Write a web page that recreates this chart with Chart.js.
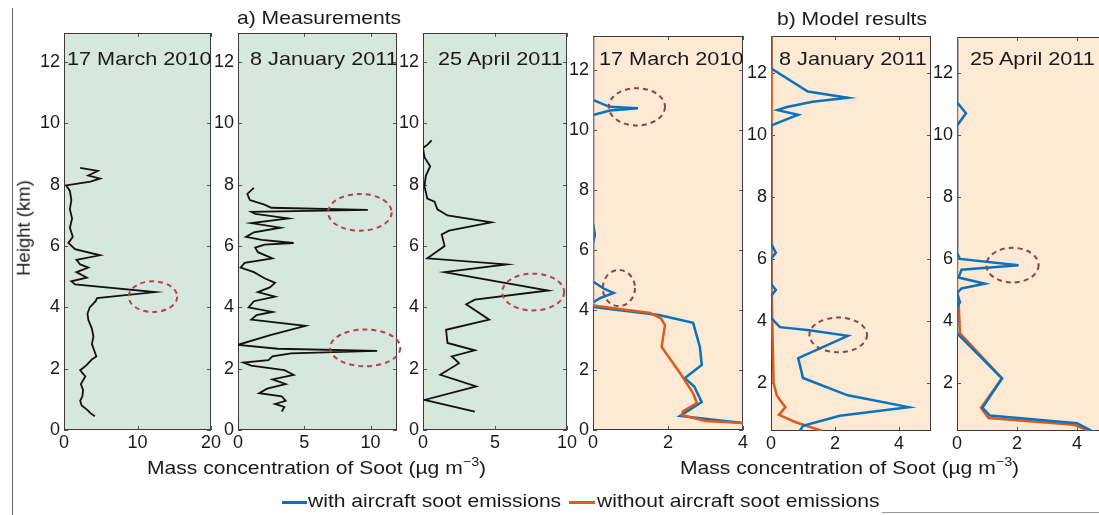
<!DOCTYPE html>
<html><head><meta charset="utf-8">
<script src="https://cdn.jsdelivr.net/npm/chart.js@4.4.1/dist/chart.umd.min.js"></script>
<style>
html,body{margin:0;padding:0;background:#fff;width:1099px;height:515px;overflow:hidden;position:relative;font-family:'Liberation Sans',Arial,sans-serif;color:#1a1a1a;}
canvas{position:absolute;}
.t{position:absolute;white-space:nowrap;line-height:1;font-size:18.5px;transform:scaleX(1.14);transform-origin:0 0;}
.d{font-size:19px;}
.rot{position:absolute;white-space:nowrap;line-height:1;font-size:18.5px;transform:translate(-50%,-50%) rotate(-90deg);}
sup{font-size:0.68em;vertical-align:0.6em;line-height:0;}
.frame{position:absolute;background:#666;}
.lg{position:absolute;height:2.5px;}
</style></head><body>
<div class="frame" style="left:12px;top:8px;width:1px;height:507px;"></div>
<div class="frame" style="left:882px;top:512px;width:217px;height:1px;background:#999;"></div>
<script>
// ---------------- data ----------------
const panelTitles = ["17 March 2010", "8 January 2011", "25 April 2011", "17 March 2010", "8 January 2011", "25 April 2011"];
const groupTitles = ["a) Measurements", "b) Model results"];
const legendLabels = ["with aircraft soot emissions", "without aircraft soot emissions"];
const yTickValues = [0, 2, 4, 6, 8, 10, 12];

// a) measurements — heights (km) and soot mass concentration (µg m-3)
const heightMeasMar10 = [8.55, 8.45, 8.3, 8.2, 8.1, 7.98, 7.8, 7.5, 7.2, 6.9, 6.6, 6.3, 6.1, 5.9, 5.7, 5.55, 5.4, 5.3, 5.15, 4.97, 4.85, 4.75, 4.5, 4.3, 4.2, 4.0, 3.8, 3.6, 3.3, 3.05, 2.8, 2.6, 2.4, 2.3, 2.1, 1.95, 1.75, 1.5, 1.3, 1.1, 0.95, 0.8, 0.65, 0.55, 0.45];
const sootMeasMar10   = [2.2, 4.6, 3.3, 4.9, 3.6, 0.3, 0.8, 1.0, 0.8, 1.1, 0.8, 1.2, 0.6, 1.5, 4.9, 1.7, 2.2, 3.3, 1.7, 3.1, 1.0, 1.5, 12.4, 4.5, 4.3, 3.5, 3.2, 3.3, 3.8, 4.0, 3.8, 4.1, 4.4, 3.8, 3.0, 2.2, 2.9, 2.3, 2.6, 2.5, 2.2, 2.4, 3.2, 3.6, 4.2];

const heightMeasJan11 = [7.9, 7.7, 7.5, 7.35, 7.25, 7.18, 7.12, 7.05, 6.9, 6.75, 6.6, 6.45, 6.3, 6.2, 6.1, 6.05, 5.95, 5.8, 5.6, 5.45, 5.3, 5.15, 4.95, 4.8, 4.65, 4.5, 4.35, 4.2, 4.0, 3.85, 3.75, 3.6, 3.4, 3.1, 2.78, 2.65, 2.58, 2.5, 2.4, 2.28, 2.2, 2.1, 1.95, 1.8, 1.65, 1.5, 1.35, 1.2, 1.1, 0.95, 0.85, 0.75, 0.6];
const sootMeasJan11   = [1.2, 0.7, 0.9, 2.0, 2.5, 9.8, 1.0, 1.3, 3.8, 1.0, 3.2, 1.2, 0.6, 1.8, 4.2, 2.0, 1.3, 1.5, 2.6, 0.5, 0.2, 1.2, 2.0, 2.8, 2.4, 1.5, 2.8, 1.2, 0.8, 2.6, 1.4, 1.0, 5.1, 2.5, 0.0, 3.0, 10.5, 4.0, 2.6, 2.3, 0.4, 1.0, 3.5, 4.2, 2.6, 3.6, 2.2, 1.6, 3.3, 3.6, 2.8, 3.5, 3.3];

const heightMeasApr11 = [9.45, 9.3, 9.2, 8.9, 8.6, 8.3, 7.95, 7.55, 7.45, 7.2, 7.0, 6.77, 6.5, 6.38, 6.0, 5.6, 5.4, 5.15, 4.55, 4.25, 4.1, 3.6, 3.27, 2.84, 2.6, 2.4, 2.18, 1.8, 1.42, 0.98, 0.6];
const sootMeasApr11   = [0.6, 0.3, 0.0, 0.1, 0.5, 0.2, 0.1, 0.3, 0.8, 1.0, 1.7, 4.75, 1.8, 1.3, 1.5, 0.3, 5.8, 1.5, 8.7, 3.6, 3.0, 4.6, 1.6, 1.7, 3.6, 2.0, 2.5, 1.2, 3.7, 0.1, 3.6];

// b) model results
const heightModMar10With    = [13.1, 11.0, 10.77, 10.72, 10.65, 10.5, 6.9, 6.5, 6.2, 4.95, 4.7, 4.57, 4.4, 4.25, 4.1, 3.83, 3.57, 2.77, 2.17, 1.73, 1.45, 0.93, 0.47, 0.23];
const sootModMar10With      = [0, 0, 0.44, 1.2, 0.45, 0, 0, 0.05, 0, 0, 0.3, 0.55, 0.2, 0, 0, 1.76, 2.67, 2.85, 2.9, 2.45, 2.7, 2.9, 2.32, 4.0];
const heightModMar10Without = [13.1, 4.15, 3.9, 3.73, 3.5, 2.77, 1.9, 1.22, 0.9, 0.62, 0.5, 0.3, 0.23];
const sootModMar10Without   = [0, 0, 1.52, 1.8, 1.92, 1.83, 2.32, 2.67, 2.77, 2.4, 2.37, 3.0, 4.0];

const heightModJan11With    = [13.2, 12.15, 11.4, 11.2, 11.07, 10.9, 10.8, 10.65, 10.55, 10.3, 6.5, 6.2, 6.0, 5.2, 5.0, 4.8, 4.1, 3.8, 3.7, 3.52, 2.8, 2.16, 1.6, 1.22, 0.94, 0.62, 0.45];
const sootModJan11With      = [0, 0, 1.15, 2.4, 1.3, 0.5, 0.2, 0.85, 0.6, 0, 0, 0.15, 0, 0, 0.15, 0, 0, 0.28, 1.2, 2.4, 0.85, 1.0, 2.4, 4.3, 2.15, 1.0, 0.9];
const heightModJan11Without = [13.2, 5.0, 2.0, 1.6, 1.45, 1.22, 0.97, 0.74, 0.45];
const sootModJan11Without   = [0, 0.02, 0.08, 0.18, 0.28, 0.45, 0.25, 0.75, 1.6];

const heightModApr11With    = [13.2, 11.05, 10.7, 10.3, 6.2, 6.0, 5.8, 5.65, 5.4, 5.2, 5.05, 4.9, 4.6, 4.45, 3.6, 2.15, 1.2, 0.95, 0.7, 0.42];
const sootModApr11With      = [0, 0, 0.3, 0, 0, 0.1, 2.05, 0.15, 0.05, 0.93, 0.15, 0, 0.1, 0, 0, 1.5, 0.85, 1.1, 4.0, 4.55];
const heightModApr11Without = [13.2, 5.0, 4.7, 4.0, 3.6, 2.15, 1.2, 0.87, 0.65, 0.42];
const sootModApr11Without   = [0, 0, 0.05, 0.08, 0.1, 1.5, 0.8, 1.05, 3.9, 4.5];

// highlighted regions (dashed ellipses): centre soot, centre height, half-width (soot), half-height (km)
const ellipsesMeasMar10 = [[12.1, 4.35, 3.3, 0.5]];
const ellipsesMeasJan11 = [[9.2, 7.1, 2.4, 0.6], [9.6, 2.68, 2.65, 0.6]];
const ellipsesMeasApr11 = [[7.65, 4.5, 2.15, 0.6]];
const ellipsesModMar10  = [[1.17, 10.77, 0.75, 0.62], [0.69, 4.73, 0.43, 0.6]];
const ellipsesModJan11  = [[2.1, 3.55, 0.9, 0.56]];
const ellipsesModApr11  = [[1.85, 5.8, 0.87, 0.56]];

// ---------------- drawing ----------------
const FONT = "'Liberation Sans', Arial, sans-serif";
const BLUE = '#0a72bc', ORANGE = '#dc5a1e', BLACK = '#111111';
const MEAS_BG = '#d6e7dd', MOD_BG = '#fde9d4';

function pts(xs, ys) { return xs.map((v, i) => ({x: v, y: ys[i]})); }

const panelPlugin = {
  id: 'panel',
  beforeDatasetsDraw(chart, args, o) {
    const {ctx, chartArea: a} = chart;
    const sx = chart.scales.x, sy = chart.scales.y;
    ctx.save();
    ctx.fillStyle = o.bg;
    ctx.fillRect(a.left, a.top, a.right - a.left, a.bottom - a.top);
    ctx.strokeStyle = '#555'; ctx.lineWidth = 1;
    ctx.beginPath();
    sx.ticks.forEach(t => {
      const p = Math.round(sx.getPixelForValue(t.value)) + 0.5;
      ctx.moveTo(p, a.bottom); ctx.lineTo(p, a.bottom - 4);
      ctx.moveTo(p, a.top); ctx.lineTo(p, a.top + 4);
    });
    sy.ticks.forEach(t => {
      const p = Math.round(sy.getPixelForValue(t.value)) + 0.5;
      ctx.moveTo(a.left, p); ctx.lineTo(a.left + 4, p);
      ctx.moveTo(a.right, p); ctx.lineTo(a.right - 4, p);
    });
    ctx.stroke();
    ctx.strokeStyle = '#3a3a3a';
    ctx.strokeRect(a.left + 0.5, a.top + 0.5, a.right - a.left - 1, a.bottom - a.top - 1);
    ctx.restore();
  },
  afterDatasetsDraw(chart, args, o) {
    const {ctx} = chart;
    const sx = chart.scales.x, sy = chart.scales.y;
    ctx.save();
    ctx.strokeStyle = o.ellColor; ctx.lineWidth = 2; ctx.setLineDash([5, 4]);
    (o.ellipses || []).forEach(e => {
      const cx = sx.getPixelForValue(e[0]), cy = sy.getPixelForValue(e[1]);
      const rx = Math.abs(sx.getPixelForValue(e[0] + e[2]) - cx);
      const ry = Math.abs(sy.getPixelForValue(e[1] + e[3]) - cy);
      ctx.beginPath(); ctx.ellipse(cx, cy, rx, ry, 0, 0, Math.PI * 2); ctx.stroke();
    });
    ctx.restore();
  }
};

function makePanel(p) {
  const W = p.R - p.L, H = p.B - p.T;
  const c = document.createElement('canvas');
  c.width = W + 60; c.height = H + 50;
  c.style.left = (p.L - 40) + 'px'; c.style.top = (p.T - 20) + 'px';
  c.style.width = (W + 60) + 'px'; c.style.height = (H + 50) + 'px';
  document.body.appendChild(c);
  new Chart(c, {
    type: 'scatter',
    data: { datasets: p.series.map(s => ({
      data: s.data, showLine: true, borderColor: s.color, backgroundColor: s.color,
      borderWidth: s.width, pointRadius: 0, tension: 0, fill: false
    })) },
    options: {
      responsive: false, animation: false, devicePixelRatio: 1,
      layout: { padding: { top: 20, right: 20, left: 0, bottom: 0 } },
      plugins: { legend: { display: false }, tooltip: { enabled: false },
        panel: { bg: p.bg, ellipses: p.ellipses, ellColor: p.ellColor } },
      scales: {
        x: { type: 'linear', min: p.xMin, max: p.xMax,
          grid: { display: false, drawTicks: false }, border: { display: false },
          ticks: { stepSize: p.xStep, includeBounds: false, padding: 2, color: '#1a1a1a', font: { family: FONT, size: 18 }, maxRotation: 0, autoSkip: false },
          afterFit(s) { s.height = 30; } },
        y: { type: 'linear', min: p.yMin, max: p.yMax,
          grid: { display: false, drawTicks: false }, border: { display: false },
          ticks: { stepSize: 2, includeBounds: false, padding: 4, color: '#1a1a1a', font: { family: FONT, size: 18 }, autoSkip: false },
          afterFit(s) { s.width = 40; } }
      }
    },
    plugins: [panelPlugin]
  });
}

const MEAS_ELL = '#b8404c', MOD_ELL = '#8a4646';
const panels = [
  { L: 64, R: 211, T: 33, B: 430, xMin: 0, xMax: 20, xStep: 10, yMin: 0, yMax: 12.95, bg: MEAS_BG, ellColor: MEAS_ELL, ellipses: ellipsesMeasMar10,
    series: [{ data: pts(sootMeasMar10, heightMeasMar10), color: BLACK, width: 1.8 }] },
  { L: 238, R: 397, T: 33, B: 430, xMin: 0, xMax: 12, xStep: 5, yMin: 0, yMax: 12.95, bg: MEAS_BG, ellColor: MEAS_ELL, ellipses: ellipsesMeasJan11,
    series: [{ data: pts(sootMeasJan11, heightMeasJan11), color: BLACK, width: 1.8 }] },
  { L: 423, R: 567, T: 33, B: 430, xMin: 0, xMax: 10, xStep: 5, yMin: 0, yMax: 12.95, bg: MEAS_BG, ellColor: MEAS_ELL, ellipses: ellipsesMeasApr11,
    series: [{ data: pts(sootMeasApr11, heightMeasApr11), color: BLACK, width: 1.8 }] },
  { L: 593, R: 743, T: 36, B: 430, xMin: 0, xMax: 4, xStep: 2, yMin: 0, yMax: 13.13, bg: MOD_BG, ellColor: MOD_ELL, ellipses: ellipsesModMar10,
    series: [{ data: pts(sootModMar10Without, heightModMar10Without), color: ORANGE, width: 2.5 },
             { data: pts(sootModMar10With, heightModMar10With), color: BLUE, width: 2.5 }] },
  { L: 771, R: 931, T: 36, B: 431, xMin: 0, xMax: 5, xStep: 2, yMin: 0.45, yMax: 13.19, bg: MOD_BG, ellColor: MOD_ELL, ellipses: ellipsesModJan11,
    series: [{ data: pts(sootModJan11With, heightModJan11With), color: BLUE, width: 2.5 },
             { data: pts(sootModJan11Without, heightModJan11Without), color: ORANGE, width: 2.5 }] },
  { L: 957, R: 1107, T: 37, B: 431, xMin: 0, xMax: 5, xStep: 2, yMin: 0.45, yMax: 13.16, bg: MOD_BG, ellColor: MOD_ELL, ellipses: ellipsesModApr11,
    series: [{ data: pts(sootModApr11With, heightModApr11With), color: BLUE, width: 2.5 },
             { data: pts(sootModApr11Without, heightModApr11Without), color: ORANGE, width: 2.5 }] }
];
panels.forEach(makePanel);

// ---------------- text ----------------
function addText(html, left, top, cls) {
  const d = document.createElement('div');
  d.className = cls || 't';
  d.style.left = left + 'px'; d.style.top = top + 'px';
  d.innerHTML = html;
  document.body.appendChild(d);
  return d;
}
const titleLefts = [67, 250, 438, 599, 779, 970];
panelTitles.forEach((t, i) => addText(t, titleLefts[i], 49, 't d'));
addText(groupTitles[0], 237, 9);
addText(groupTitles[1], 777, 10);
const xTitle = 'Mass concentration of Soot (\u00b5g m<sup>\u22123</sup>)';
addText(xTitle, 147, 459);
addText(xTitle, 680, 459);
addText('Height (km)', 24, 228, 'rot');
// legend
function legendLine(x, w, color) {
  const d = document.createElement('div');
  d.className = 'lg'; d.style.left = x + 'px'; d.style.top = '501px'; d.style.width = w + 'px'; d.style.background = color;
  document.body.appendChild(d);
}
legendLine(282, 25, BLUE);
addText(legendLabels[0], 308, 492);
legendLine(569, 26, ORANGE);
addText(legendLabels[1], 597, 492);
</script>
</body></html>
